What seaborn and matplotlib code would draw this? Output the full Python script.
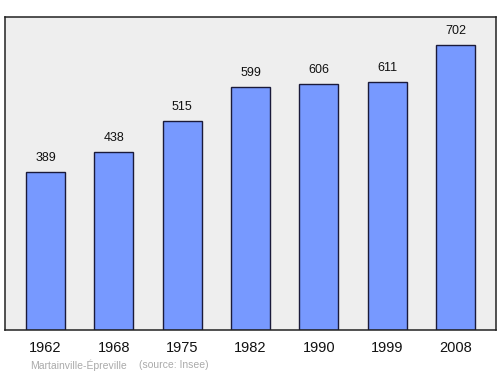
import matplotlib
matplotlib.use("Agg")
import matplotlib.pyplot as plt
import seaborn as sns
import pandas as pd

years = ["1962", "1968", "1975", "1982", "1990", "1999", "2008"]
population = [389, 438, 515, 599, 606, 611, 702]
place = "Martainville-Épreville"
source = "(source: Insee)"

sns.set_theme(style="white")
plt.rcParams['font.family'] = ['Liberation Sans', 'DejaVu Sans']

df = pd.DataFrame({"year": years, "pop": population})

fig = plt.figure(figsize=(5, 3.74), dpi=100)
ax = fig.add_axes([0.01, 44/374, 491/500, 313/374])
ax.set_facecolor("#eeeeee")

sns.barplot(data=df, x="year", y="pop", ax=ax, color="#7799ff", saturation=1,
            width=0.57, edgecolor="#1a1a3a", linewidth=1)

for i, v in enumerate(population):
    ax.text(i, v + 20, str(v), ha="center", va="bottom", fontsize=9, color="#111111")

ax.set_xlim(-0.593, 6.593)
ax.set_ylim(0, 771)
ax.set_yticks([])
ax.set_xlabel("")
ax.set_ylabel("")
ax.tick_params(axis="x", length=0, pad=8, labelsize=10.5, colors="#111111")
for s in ax.spines.values():
    s.set_visible(True)
    s.set_color("#222222")
    s.set_linewidth(1.1)

fig.text(30/500, 1 - 365/374, place, fontsize=7.5, color="#aaaaaa", va="center")
fig.text(139/500, 1 - 365/374, source, fontsize=7.5, color="#aaaaaa", va="center")

fig.savefig("out.png", dpi=100)
